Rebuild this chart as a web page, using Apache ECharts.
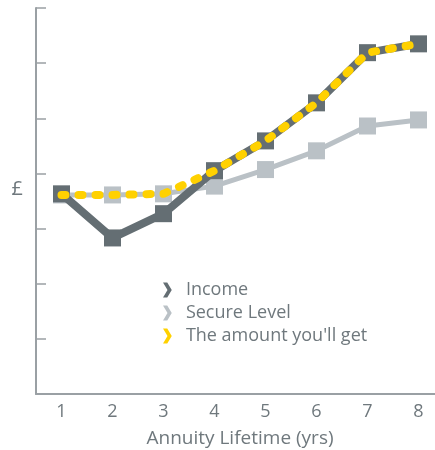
<!DOCTYPE html>
<html><head><meta charset="utf-8">
<script src="https://cdn.jsdelivr.net/npm/echarts@6/dist/echarts.min.js"></script>
<style>html,body{margin:0;padding:0;background:#fff}#c{width:435px;height:450px}</style>
</head><body><div id="c"></div>
<script>
const years = ['1','2','3','4','5','6','7','8'];
const income = [3.63, 2.83, 3.27, 4.05, 4.59, 5.28, 6.19, 6.35];
const secureLevel = [3.61, 3.61, 3.63, 3.77, 4.07, 4.41, 4.86, 4.97];
const amountYouGet = [3.61, 3.61, 3.63, 4.05, 4.59, 5.28, 6.19, 6.35];
const poundTick = 4;

const axisColor = '#9aa0a4';
const textColor = '#6f787d';
const chevron = 'path://M0,0 L3.4,0 L7,6 L3.4,12 L0,12 L3.6,6 Z';
const font = 'Open Sans';

const chart = echarts.init(document.getElementById('c'), null, {renderer: 'canvas'});
chart.setOption({
  animation: false,
  textStyle: {fontFamily: font},
  grid: {left: 36, top: 8, bottom: 56, right: -9, containLabel: false, outerBoundsMode: 'none'},
  legend: {
    orient: 'vertical', left: 158, top: 276, itemGap: 5,
    itemWidth: 27, itemHeight: 15,
    textStyle: {fontFamily: font, fontSize: 18, color: textColor, lineHeight: 18},
    data: [
      {name: 'Income', icon: chevron},
      {name: 'Secure Level', icon: chevron},
      {name: "The amount you'll get", icon: chevron}
    ]
  },
  xAxis: {
    type: 'category', data: years, boundaryGap: true,
    name: 'Annuity Lifetime (yrs)', nameLocation: 'middle', nameGap: 35,
    nameTextStyle: {fontFamily: font, fontSize: 19, color: textColor},
    axisLine: {lineStyle: {color: axisColor, width: 2}},
    axisTick: {inside: true, length: 10, lineStyle: {color: axisColor, width: 1.5}},
    axisLabel: {fontFamily: font, fontSize: 18, color: textColor, margin: 9},
    splitLine: {show: false}
  },
  yAxis: {
    type: 'value', min: 0, max: 7, interval: 1,
    axisLine: {show: true, lineStyle: {color: axisColor, width: 2}},
    axisTick: {show: true, inside: true, length: 10, lineStyle: {color: axisColor, width: 1.5}},
    axisLabel: {
      fontFamily: font, fontSize: 20, color: textColor, margin: 13,
      verticalAlign: 'top', padding: [6, 0, 0, 0],
      formatter: v => v === poundTick ? '£' : ''
    },
    splitLine: {show: false}
  },
  series: [
    {
      name: 'Secure Level', type: 'line', data: secureLevel, z: 2,
      symbol: 'rect', symbolSize: 17,
      itemStyle: {color: '#bac1c6'},
      lineStyle: {color: '#bac1c6', width: 5}
    },
    {
      name: 'Income', type: 'line', data: income, z: 3,
      symbol: 'rect', symbolSize: 17,
      itemStyle: {color: '#646e73'},
      lineStyle: {color: '#646e73', width: 8}
    },
    {
      name: "The amount you'll get", type: 'line', data: amountYouGet, z: 4,
      symbol: 'none',
      itemStyle: {color: '#ffd100'},
      lineStyle: {color: '#ffd100', width: 8, type: [4, 13], cap: 'round'}
    }
  ]
});
</script></body></html>
